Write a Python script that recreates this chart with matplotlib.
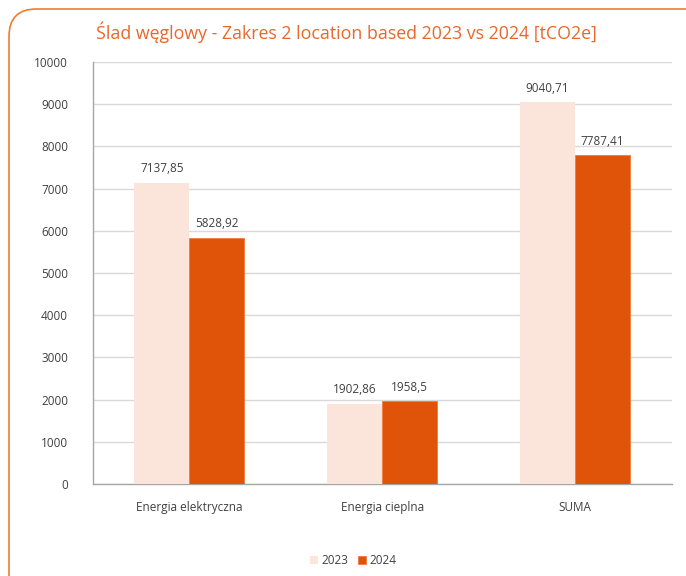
import matplotlib.pyplot as plt
import numpy as np
from matplotlib.patches import FancyBboxPatch

plt.rcParams['font.family'] = ['Open Sans', 'DejaVu Sans']

categories = ['Energia elektryczna', 'Energia cieplna', 'SUMA']
values_2023 = [7137.85, 1902.86, 9040.71]
values_2024 = [5828.92, 1958.5, 7787.41]
labels_2023 = ['7137,85', '1902,86', '9040,71']
labels_2024 = ['5828,92', '1958,5', '7787,41']

c2023 = '#FBE5DA'
c2024 = '#E0540A'

fig = plt.figure(figsize=(6.86, 5.76), dpi=100)
ax = fig.add_axes([0.1356, 0.1597, 0.8434, 0.7327])

# rounded orange frame
frame = FancyBboxPatch((9 / 686, -0.1), 1.2, 1.1 - 9 / 576,
                       boxstyle='round,pad=0,rounding_size=0.04',
                       transform=fig.transFigure, fill=False,
                       edgecolor='#ED7D31', linewidth=1.2, mutation_aspect=686 / 576)
fig.patches.append(frame)

x = np.arange(len(categories))
w = 0.285
b1 = ax.bar(x - w / 2, values_2023, w, color=c2023, label='2023', zorder=3)
b2 = ax.bar(x + w / 2, values_2024, w, color=c2024, edgecolor='#F07A40', linewidth=0.6,
            label='2024', zorder=3)

for rect, lab in zip(b1, labels_2023):
    ax.text(rect.get_x() + rect.get_width() / 2, rect.get_height() + 180, lab,
            ha='center', va='bottom', fontsize=8.5, color='#404040')
for rect, lab in zip(b2, labels_2024):
    ax.text(rect.get_x() + rect.get_width() / 2, rect.get_height() + 180, lab,
            ha='center', va='bottom', fontsize=8.5, color='#404040')

ax.set_xlim(-0.5, 2.5)
ax.set_ylim(0, 10000)
ax.set_yticks(np.arange(0, 10001, 1000))
ax.set_xticks(x)
ax.set_xticklabels(categories)
ax.tick_params(axis='both', length=0, labelsize=8.5, colors='#404040')
ax.tick_params(axis='x', pad=12)
ax.tick_params(axis='y', pad=18)
ax.grid(axis='y', color='#D9D9D9', linewidth=1, zorder=0)
for s in ['top', 'right']:
    ax.spines[s].set_visible(False)
for s in ['left', 'bottom']:
    ax.spines[s].set_color('#A6A6A6')
    ax.spines[s].set_linewidth(1)

fig.text(0.505, 0.944, 'Ślad węglowy - Zakres 2 location based 2023 vs 2024 [tCO2e]',
         ha='center', va='center', fontsize=12.8, color='#E8672A')

fig.legend(handles=[b1, b2], labels=['2023', '2024'], loc='center',
           bbox_to_anchor=(0.515, 0.027), ncol=2, frameon=False, fontsize=8.5,
           handlelength=0.7, handleheight=0.7, handletextpad=0.3, columnspacing=0.8,
           labelcolor='#404040')

fig.savefig('out.png', dpi=100)
